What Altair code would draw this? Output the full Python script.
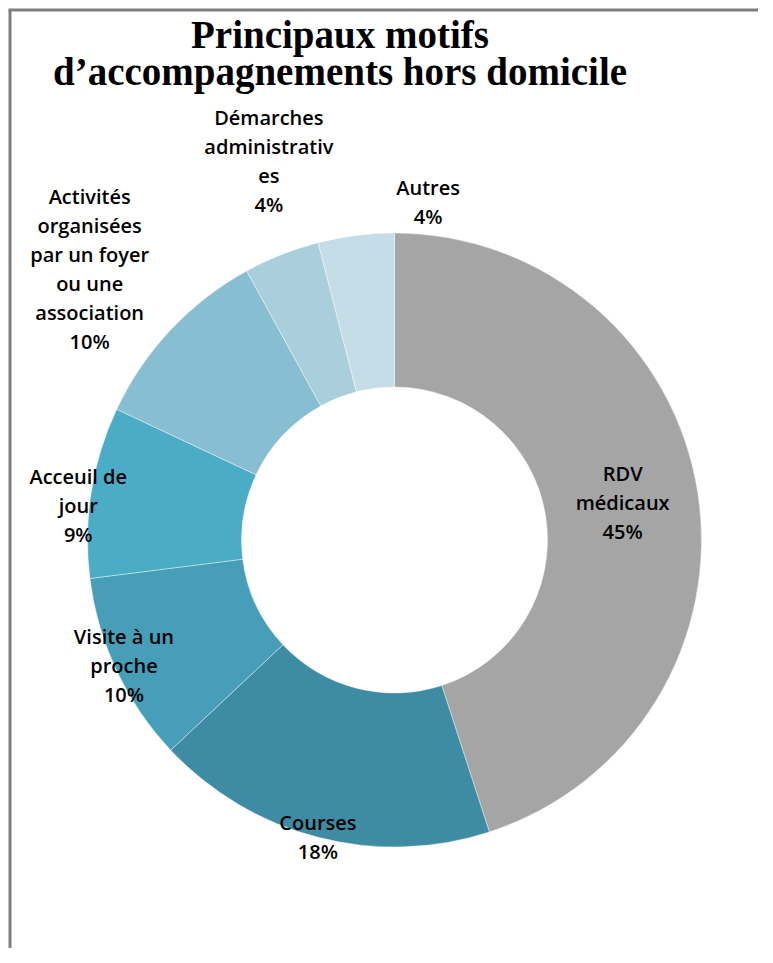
import altair as alt
import pandas as pd
import math

# ---- data ----
categories = ["RDV médicaux", "Courses", "Visite à un proche", "Acceuil de jour",
              "Activités organisées par un foyer ou une association",
              "Démarches administratives", "Autres"]
values = [45, 18, 10, 9, 10, 4, 4]
label_lines = [["RDV", "médicaux"], ["Courses"], ["Visite à un", "proche"],
               ["Acceuil de", "jour"],
               ["Activités", "organisées", "par un foyer", "ou une", "association"],
               ["Démarches", "administrativ", "es"], ["Autres"]]
colors = ["#A5A5A5", "#3E8CA4", "#479EB8", "#4BACC6", "#87BED1", "#A9CFDD", "#C5DDE6"]
title_lines = ["Principaux motifs", "d’accompagnements hors domicile"]

# ---- layout (not data) ----
W, H = 750, 940
CX, CY = 386.5, 532.0          # donut centre in view coords
R_IN, R_OUT = 153, 307
LINE_H = 29
label_radius = [231, 308, 299, 318, 407, 398, 338]
label_shift = [0, 0, 0, -3, -1.7, 3.2, 12.9]   # degrees

df = pd.DataFrame({"cat": categories, "value": values,
                   "order": list(range(len(categories)))})

total = sum(values)
rows = []
cum = 0
for i, (c, v) in enumerate(zip(categories, values)):
    mid = (cum + v / 2) / total * 360 + label_shift[i]
    cum += v
    a = math.radians(mid)
    r = label_radius[i]
    lines = label_lines[i] + [f"{v}%"]
    rows.append({"cat": c,
                 "txt": "\n".join(lines),
                 "lx": CX + r * math.sin(a),
                 "ly": CY - r * math.cos(a) - (len(lines) - 1) * LINE_H / 2})
lab = pd.DataFrame(rows)

color_scale = alt.Scale(domain=categories, range=colors)

arcs = alt.Chart(df).mark_arc(innerRadius=R_IN, outerRadius=R_OUT,
                              stroke="#ffffff", strokeWidth=0.4).encode(
    theta=alt.Theta("value:Q", stack=True),
    order=alt.Order("order:Q"),
    color=alt.Color("cat:N", scale=color_scale, legend=None),
    x=alt.value(CX), y=alt.value(CY),
)

labels = alt.Chart(lab).mark_text(
    font="Open Sans", fontSize=20, fontWeight=600, color="#000000",
    align="center", baseline="middle", lineBreak="\n", lineHeight=LINE_H,
).encode(
    x=alt.X("lx:Q", scale=None), y=alt.Y("ly:Q", scale=None), text="txt:N"
)

title = alt.Chart(pd.DataFrame({"t": ["\n".join(title_lines)]})).mark_text(
    font="Liberation Serif", fontSize=39, fontWeight="bold", color="#000000",
    align="center", baseline="alphabetic", lineBreak="\n", lineHeight=37,
).encode(x=alt.value(332), y=alt.value(40), text="t:N")

border_left = alt.Chart(pd.DataFrame({"a": [0]})).mark_rule(
    color="#7F7F7F", strokeWidth=3).encode(
    x=alt.value(2), y=alt.value(2), y2=alt.value(H))
border_top = alt.Chart(pd.DataFrame({"a": [0]})).mark_rule(
    color="#7F7F7F", strokeWidth=3).encode(
    x=alt.value(0.5), x2=alt.value(W), y=alt.value(2))

chart = alt.layer(arcs, labels, title, border_left, border_top).properties(
    width=W, height=H, autosize=alt.AutoSizeParams(type="none"), padding=0,
).configure_view(stroke=None)

chart.save("out.html", embed_options={"renderer": "svg", "actions": False})
